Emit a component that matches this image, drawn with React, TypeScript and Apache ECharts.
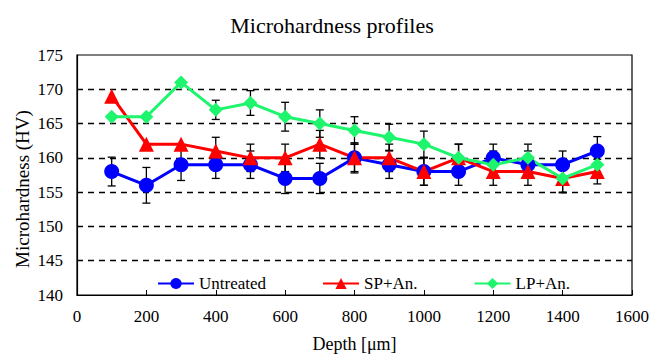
import React, { useEffect, useRef } from "react";
import * as echarts from "echarts";

const depth = [100, 200, 300, 400, 500, 600, 700, 800, 900, 1000, 1100, 1200, 1300, 1400, 1500];
const untreated = [158, 156, 159, 159, 159, 157, 157, 160, 159, 158, 158, 160, 159, 159, 161];
const spAn = [169, 162, 162, 161, 160, 160, 162, 160, 160, 158, 160, 158, 158, 157, 158];
const lpAn = [166, 166, 171, 167, 168, 166, 165, 164, 163, 162, 160, 159, 160, 157, 159];

// standard deviations shown as error bars
const untreatedErr = [2.1, 2.6, 2.3, 2.0, 2.0, 2.2, 2.2, 2.2, 2.0, 2.0, 2.0, 2.0, 2.0, 2.0, 2.1];
const spAnErr = [0, 0, 0, 2.0, 2.0, 2.0, 2.0, 2.0, 2.0, 2.0, 2.0, 2.0, 2.0, 2.1, 1.8];
const lpAnErr = [0, 0, 0, 1.4, 1.8, 2.1, 2.0, 2.0, 1.9, 1.9, 2.0, 2.0, 2.0, 2.0, 2.0];

const seriesNames = ["Untreated", "SP+An.", "LP+An."];
const yTicks = [140, 145, 150, 155, 160, 165, 170, 175];

const FONT = "Liberation Serif, Times New Roman, serif";

function errorSeries(values: number[], errs: number[]) {
  return {
    type: "custom",
    silent: true,
    z: 3,
    encode: { x: 0, y: 1 },
    data: depth.map((d, i) => [d, values[i], errs[i]]),
    renderItem: (_params: any, api: any) => {
      const x = api.value(0);
      const y = api.value(1);
      const e = api.value(2);
      if (!e) return null;
      const top = api.coord([x, y + e]);
      const bot = api.coord([x, y - e]);
      const cap = 4;
      const style = { stroke: "#000", lineWidth: 1.3 };
      return {
        type: "group",
        children: [
          { type: "line", shape: { x1: top[0], y1: top[1], x2: bot[0], y2: bot[1] }, style },
          { type: "line", shape: { x1: top[0] - cap, y1: top[1], x2: top[0] + cap, y2: top[1] }, style },
          { type: "line", shape: { x1: bot[0] - cap, y1: bot[1], x2: bot[0] + cap, y2: bot[1] }, style },
        ],
      };
    },
  };
}

function lineSeries(name: string, values: number[], color: string, symbol: string, size: number) {
  return {
    name,
    type: "line",
    z: 4,
    data: depth.map((d, i) => [d, values[i]]),
    symbol,
    symbolSize: size,
    lineStyle: { color, width: 3 },
    itemStyle: { color },
  };
}

export default function App() {
  const ref = useRef<HTMLDivElement>(null);

  useEffect(() => {
    if (!ref.current) return;
    const chart = echarts.init(ref.current, undefined, { renderer: "svg" });
    chart.setOption({
      animation: false,
      backgroundColor: "#fff",
      textStyle: { fontFamily: FONT, color: "#000" },
      title: {
        text: "Microhardness profiles",
        left: 327,
        top: 9,
        textAlign: "center",
        textStyle: { fontFamily: FONT, fontSize: 22, fontWeight: "normal", color: "#000" },
      },
      graphic: [
        {
          type: "text",
          x: 22,
          y: 189,
          rotation: Math.PI / 2,
          style: {
            text: "Microhardness (HV)",
            fontFamily: FONT,
            fontSize: 19,
            fill: "#000",
            align: "center",
            verticalAlign: "middle",
          },
        },
      ],
      legend: {
        data: seriesNames,
        left: 152,
        top: 270,
        itemWidth: 36,
        itemHeight: 14,
        itemGap: 56,
        textStyle: { fontFamily: FONT, fontSize: 17, color: "#000" },
      },
      grid: {
        left: 77,
        right: 26,
        top: 55,
        bottom: 58,
        show: true,
        borderColor: "#000",
        borderWidth: 1.2,
        backgroundColor: "transparent",
      },
      xAxis: {
        type: "value",
        min: 0,
        max: 1600,
        interval: 200,
        name: "Depth [\u03bcm]",
        nameLocation: "middle",
        nameGap: 40,
        nameTextStyle: { fontFamily: FONT, fontSize: 18, color: "#000" },
        axisLine: { lineStyle: { color: "#000", width: 1.2 } },
        axisTick: { inside: true, length: 5, lineStyle: { color: "#000" } },
        axisLabel: {
          fontFamily: FONT,
          fontSize: 17,
          color: "#000",
          margin: 13,
          formatter: (v: number) => String(v),
        },
        splitLine: { show: false },
      },
      yAxis: {
        type: "value",
        min: yTicks[0],
        max: yTicks[yTicks.length - 1],
        interval: 5,
        axisLine: { show: true, lineStyle: { color: "#000", width: 1.2 } },
        axisTick: { show: false },
        axisLabel: {
          fontFamily: FONT,
          fontSize: 17,
          color: "#000",
          margin: 14,
        },
        splitLine: {
          show: true,
          lineStyle: { color: "#000", type: [6, 5], width: 1.3 },
          showMinLine: false,
          showMaxLine: false,
        },
      },
      series: [
        errorSeries(untreated, untreatedErr),
        errorSeries(spAn, spAnErr),
        errorSeries(lpAn, lpAnErr),
        lineSeries("Untreated", untreated, "#0000ff", "circle", 15),
        lineSeries("SP+An.", spAn, "#ff0000", "triangle", 15),
        lineSeries("LP+An.", lpAn, "#1cf56c", "diamond", 14),
      ],
    });
    return () => chart.dispose();
  }, []);

  return <div ref={ref} style={{ width: 658, height: 358, position: "absolute", left: 0, top: 0 }} />;
}
